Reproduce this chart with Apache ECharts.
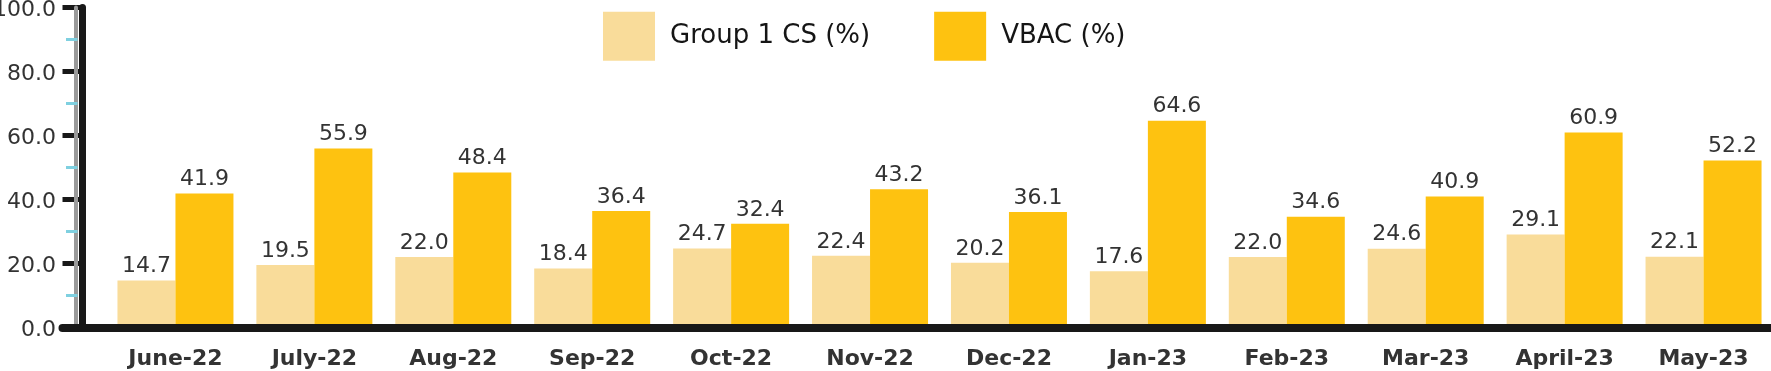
<!DOCTYPE html>
<html>
<head>
<meta charset="utf-8">
<script src="https://cdn.jsdelivr.net/npm/echarts@6/dist/echarts.min.js"></script>
<style>
html,body{margin:0;padding:0;background:#fff;}
#c{width:1771px;height:371px;}
</style>
</head>
<body>
<div id="c"></div>
<script>
const categories = ['June-22','July-22','Aug-22','Sep-22','Oct-22','Nov-22','Dec-22','Jan-23','Feb-23','Mar-23','April-23','May-23'];
const group1CS = [14.7,19.5,22.0,18.4,24.7,22.4,20.2,17.6,22.0,24.6,29.1,22.1];
const vbac = [41.9,55.9,48.4,36.4,32.4,43.2,36.1,64.6,34.6,40.9,60.9,52.2];
const seriesNames = ['Group 1 CS (%)','VBAC (%)'];
const yMin = 0, yMax = 100, yStep = 20;

const FONT = '"DejaVu Sans", sans-serif';
const TOP = 7.5, BOTTOM = 43.5, LABEL_SHIFT = 2.5;
const chart = echarts.init(document.getElementById('c'));
const hiddenY = (gi) => ({type:'value', gridIndex:gi, min:yMin, max:yMax, interval:yStep, show:false});
const hiddenX = (gi) => ({type:'value', gridIndex:gi, show:false});
const mkGrid = (left, right, t, b) => ({left:left, right:right, top:(t===undefined?TOP:t), bottom:(b===undefined?BOTTOM:b), containLabel:false, outerBoundsMode:'none'});

chart.setOption({
  animation:false,
  backgroundColor:'#fff',
  legend:{
    left:603, top:11.7, padding:0,
    itemWidth:52, itemHeight:49, itemGap:64,
    icon:'rect',
    textStyle:{fontFamily:FONT, fontSize:26, color:'#151515', padding:[10,0,0,10]},
    data:seriesNames
  },
  grid:[
    mkGrid(106, -2),
    mkGrid(62.5, 0),
    mkGrid(82, 0),
    mkGrid(76, 0),
    mkGrid(77.5, 0),
    mkGrid(82, 0, TOP + LABEL_SHIFT, BOTTOM - LABEL_SHIFT)
  ],
  xAxis:[
    {type:'category', gridIndex:0, data:categories,
     axisLine:{show:false}, axisTick:{show:false},
     axisLabel:{fontFamily:FONT, fontSize:22, fontWeight:'bold', color:'#333', margin:21}},
    {type:'value', gridIndex:1, z:10,
     axisLine:{show:true, lineStyle:{color:'#181818', width:8}},
     axisTick:{show:false}, axisLabel:{show:false}, splitLine:{show:false}},
    hiddenX(2), hiddenX(3), hiddenX(4), hiddenX(5)
  ],
  yAxis:[
    hiddenY(0),
    hiddenY(1),
    {type:'value', gridIndex:2, min:yMin, max:yMax, interval:yStep, z:2,
     axisLine:{show:true, lineStyle:{color:'#181818', width:7}},
     axisTick:{show:true, length:19.5, lineStyle:{color:'#181818', width:5}},
     axisLabel:{show:false}, splitLine:{show:false}},
    {type:'value', gridIndex:3, min:yMin, max:yMax, interval:yStep, z:3,
     axisLine:{show:true, lineStyle:{color:'#9a9a9a', width:4}},
     axisTick:{show:false}, axisLabel:{show:false}, splitLine:{show:false}},
    {type:'value', gridIndex:4, min:yMin, max:yMax, interval:yStep, z:4,
     axisLine:{show:false}, axisTick:{show:false}, axisLabel:{show:false}, splitLine:{show:false},
     minorTick:{show:true, splitNumber:2, length:11.5, lineStyle:{color:'#7fd0e0', width:3}}},
    {type:'value', gridIndex:5, min:yMin, max:yMax, interval:yStep, z:5,
     axisLine:{show:false}, axisTick:{show:false}, splitLine:{show:false},
     axisLabel:{fontFamily:FONT, fontSize:22, color:'#333', margin:26, formatter:v=>v.toFixed(1)}}
  ],
  series:[
    {name:seriesNames[0], type:'bar', xAxisIndex:0, yAxisIndex:0, data:group1CS, z:1,
     barGap:'0%', barCategoryGap:'16.5%',
     itemStyle:{color:'#f9dc9a'},
     label:{show:true, position:'top', distance:3, fontFamily:FONT, fontSize:22, color:'#333', formatter:p=>p.value.toFixed(1)}},
    {name:seriesNames[1], type:'bar', xAxisIndex:0, yAxisIndex:0, data:vbac, z:1,
     barGap:'0%', barCategoryGap:'16.5%',
     itemStyle:{color:'#fec210'},
     label:{show:true, position:'top', distance:3, fontFamily:FONT, fontSize:22, color:'#333', formatter:p=>p.value.toFixed(1)}}
  ]
});
</script>
</body>
</html>
